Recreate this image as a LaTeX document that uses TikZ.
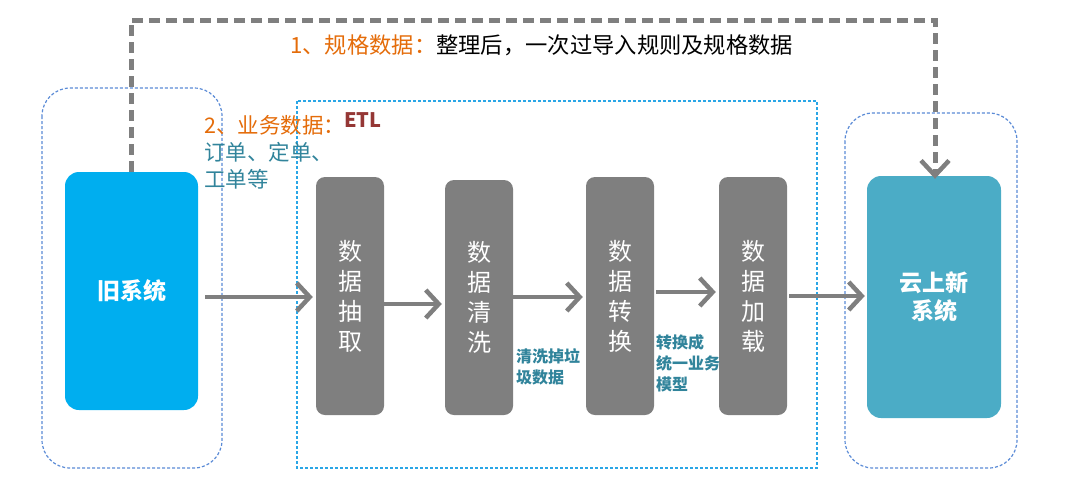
\documentclass[tikz,border=0pt]{standalone}
\usepackage{fontspec}
\setmainfont{Noto Sans CJK SC}
\usetikzlibrary{arrows.meta}
\definecolor{oldblue}{HTML}{00AEEF}
\definecolor{newteal}{HTML}{4BACC6}
\definecolor{stepgray}{HTML}{7F7F7F}
\definecolor{grpblue}{HTML}{5B8BD6}
\definecolor{etlblue}{HTML}{2AA6E6}
\definecolor{orangetxt}{HTML}{E46C0A}
\definecolor{tealtxt}{HTML}{31849B}
\definecolor{etlred}{HTML}{953735}
\tikzset{
  grp/.style={draw=grpblue, line width=1.2pt, dash pattern=on 3pt off 2pt, rounded corners=28pt},
  etlbox/.style={draw=etlblue, line width=1.2pt, dash pattern=on 3pt off 2pt},
  sysbox/.style={rounded corners=14pt, text=white, font=\bfseries\fontsize{23}{28}\selectfont, align=center},
  stepbox/.style={fill=stepgray, rounded corners=9pt, text=white, font=\fontsize{24}{30}\selectfont, align=center},
  flow/.style={draw=stepgray, line width=4pt, -{Straight Barb[length=13pt,width=28pt,line width=4.5pt]}},
  note/.style={text=tealtxt, font=\bfseries\fontsize{16}{21}\selectfont, align=left, anchor=north west, inner sep=0pt},
}
\begin{document}
\begin{tikzpicture}[x=1pt,y=-1pt]
\useasboundingbox (0,0) rectangle (1080,488);
% group frames
\draw[grp] (42,88) rectangle (222,468);
\draw[grp] (845,113) rectangle (1017,468);
\draw[etlbox] (297,101) rectangle (817,468);
% systems
\node[sysbox, fill=oldblue, minimum width=133pt, minimum height=238pt] (old) at (131.5,291) {旧系统};
\node[sysbox, fill=newteal, minimum width=134pt, minimum height=242pt] (new) at (934,297) {云上新\\系统};
% steps
\node[stepbox, minimum width=68pt, minimum height=238pt] (s1) at (350,296) {数\\据\\抽\\取};
\node[stepbox, minimum width=68pt, minimum height=235pt] (s2) at (479,297.5) {数\\据\\清\\洗};
\node[stepbox, minimum width=68pt, minimum height=238pt] (s3) at (620,296) {数\\据\\转\\换};
\node[stepbox, minimum width=68pt, minimum height=238pt] (s4) at (753,296) {数\\据\\加\\载};
% flow arrows
\draw[flow] ([xshift=7pt]old.east |- 0,297) -- ([xshift=-3pt]s1.west |- 0,297);
\draw[flow] (s1.east |- 0,304) -- ([xshift=-3pt]s2.west |- 0,304);
\draw[flow] (s2.east |- 0,297) -- ([xshift=-3pt]s3.west |- 0,297);
\draw[flow] ([xshift=2pt]s3.east |- 0,292) -- ([xshift=-3pt]s4.west |- 0,292);
\draw[flow] ([xshift=2pt]s4.east |- 0,296) -- ([xshift=-2pt]new.west |- 0,296);
% dashed top route
\coordinate (c1) at (131,20);
\coordinate (c2) at (935,20);
\draw[draw=stepgray, line width=5pt, dash pattern=on 11pt off 6pt, -{Straight Barb[length=15pt,width=28pt,line width=4.5pt]}]
  (old.north -| 131,0) -- (c1) -- (c2) -- ([yshift=-3pt]new.north -| 935,0);
% labels
\node[anchor=west, inner sep=0pt, font=\fontsize{22.3}{26}\selectfont] (t1) at (290,45) {\textcolor{orangetxt}{1、规格数据：}整理后，一次过导入规则及规格数据};
\node[anchor=north west, inner sep=0pt, font=\fontsize{21.5}{27}\selectfont, align=left] (t2) at (204,115)
  {\textcolor{orangetxt}{2、业务数据：}\\\textcolor{tealtxt}{订单、定单、}\\\textcolor{tealtxt}{工单等}};
\node[anchor=west, inner sep=0pt, text=etlred, font=\bfseries\fontsize{20}{24}\selectfont] (etl) at (344,120) {ETL};
\node[note] (n1) at (516,348) {清洗掉垃\\圾数据};
\node[note] (n2) at (656,334) {转换成\\统一业务\\模型};
\end{tikzpicture}
\end{document}
